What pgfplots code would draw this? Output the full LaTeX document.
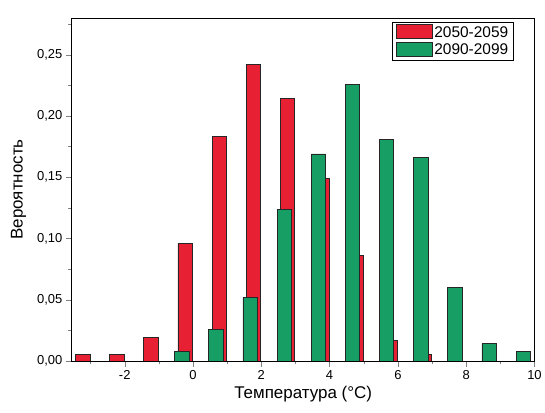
\documentclass[border=0pt]{standalone}
\usepackage{fontspec}
\setmainfont{Liberation Sans}
\usepackage{pgfplots}
\pgfplotsset{compat=1.18}
\definecolor{myred}{RGB}{232,32,52}
\definecolor{mygreen}{RGB}{22,158,100}
\begin{document}
\begin{tikzpicture}
\begin{axis}[
  name=ax,
  scale only axis, width=464pt, height=344pt,
  xmin=-3.55, xmax=10, ymin=0, ymax=0.28,
  xtick={-2,0,2,4,6,8,10}, minor xtick={-3,-1,1,3,5,7,9},
  ytick={0,0.05,0.10,0.15,0.20,0.25}, minor ytick={0.025,0.075,0.125,0.175,0.225,0.275},
  xtick pos=bottom, ytick pos=left,
  tick align=outside,
  major tick length=6pt, minor tick length=3.5pt,
  /pgf/number format/assume math mode=true,
  yticklabel style={/pgf/number format/.cd, fixed, fixed zerofill, precision=2, use comma},
  ticklabel style={font=\fontsize{13}{15}\selectfont},
  xlabel={Температура (°C)}, ylabel={Вероятность},
  label style={font=\fontsize{17}{19}\selectfont},
  ylabel shift=4pt,
  axis line style={line width=0.8pt},
  legend style={at={(0.955,0.988)}, anchor=north east, draw=black, line width=0.8pt,
    font=\fontsize{15.5}{17}\selectfont, row sep=1pt},
  legend cell align=left,
  legend image code/.code={\draw[#1, line width=0.6pt] (0pt,-6pt) rectangle (36pt,8pt);},
]
\addplot[ybar, bar shift=0pt, bar width=0.42, fill=myred, draw=black!85, line width=0.7pt]
coordinates {(-3.23,0.005) (-2.23,0.005) (-1.23,0.019) (-0.23,0.096) (0.77,0.183) (1.77,0.242) (2.77,0.214) (3.77,0.149) (4.77,0.086) (5.77,0.017) (6.77,0.005)};
\addlegendentry{2050-2059}
\addplot[ybar, bar shift=0pt, bar width=0.42, fill=mygreen, draw=black!85, line width=0.7pt]
coordinates {(-0.33,0.008) (0.67,0.026) (1.67,0.052) (2.67,0.124) (3.67,0.169) (4.67,0.226) (5.67,0.181) (6.67,0.166) (7.67,0.060) (8.67,0.014) (9.67,0.008)};
\addlegendentry{2090-2099}
\end{axis}
\path (ax.south west) ++(-72pt,-52pt);
\path (ax.north east) ++(9pt,18pt);
\end{tikzpicture}
\end{document}
